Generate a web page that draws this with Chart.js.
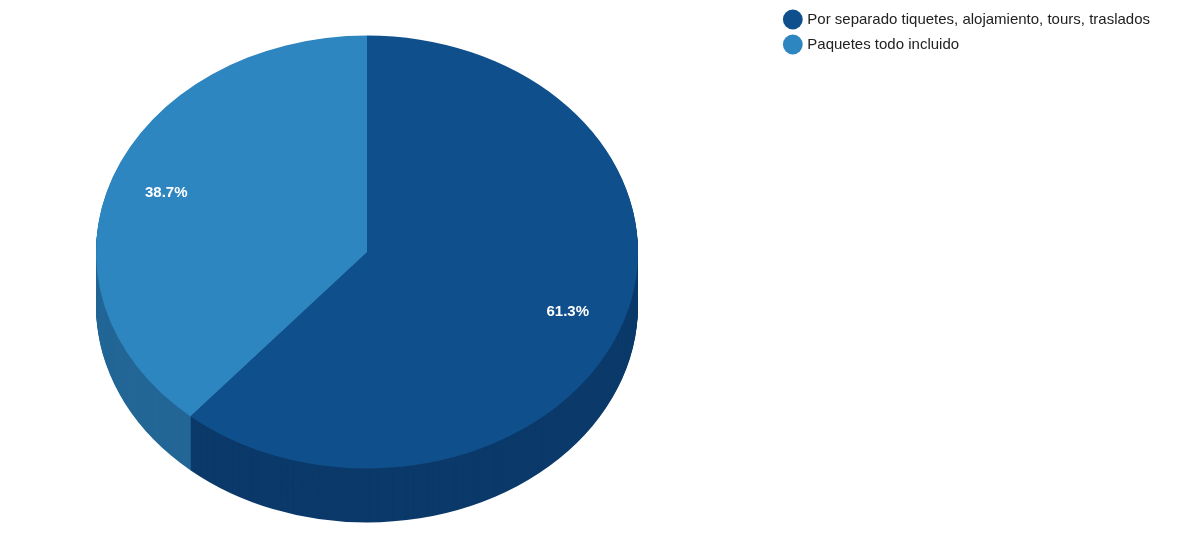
<!DOCTYPE html>
<html>
<head>
<meta charset="utf-8">
<script src="https://cdn.jsdelivr.net/npm/chart.js@4.4.0/dist/chart.umd.min.js"></script>
<style>
  html, body { margin: 0; padding: 0; background: #fff; }
  #wrap { width: 1200px; height: 536px; }
</style>
</head>
<body>
<div id="wrap"><canvas id="pieChart"></canvas></div>
<script>
const labels = ["Por separado tiquetes, alojamiento, tours, traslados", "Paquetes todo incluido"];
const values = [61.3, 38.7];
const topColors = ["#0f4f8c", "#2e86c1"];
const sideColors = ["#0b3a6a", "#236796"];

// 3D look: squash the pie into an ellipse and add a side wall
const CX = 367, CY = 252, RX = 271, RY = 216.5, DEPTH = 54;

function applyTransform(ctx, arc) {
    ctx.translate(CX, CY);
    ctx.scale(RX / arc.outerRadius, RY / arc.outerRadius);
    ctx.translate(-arc.x, -arc.y);
}

const pie3d = {
    id: "pie3d",
    beforeDatasetsDraw(chart) {
        const ctx = chart.ctx;
        const arcs = chart.getDatasetMeta(0).data;
        ctx.save();
        applyTransform(ctx, arcs[0]);
        const k = arcs[0].outerRadius / RY;
        for (let d = DEPTH; d > 0; d--) {
            arcs.forEach((a, i) => {
                ctx.beginPath();
                ctx.moveTo(a.x, a.y + d * k);
                ctx.arc(a.x, a.y + d * k, a.outerRadius, a.startAngle, a.endAngle);
                ctx.closePath();
                ctx.fillStyle = sideColors[i];
                ctx.fill();
            });
        }
    },
    afterDatasetsDraw(chart) {
        const ctx = chart.ctx;
        ctx.restore();
        const arcs = chart.getDatasetMeta(0).data;
        ctx.save();
        ctx.font = "bold 15px 'Liberation Sans', Arial, sans-serif";
        ctx.fillStyle = "#fff";
        ctx.textAlign = "center";
        ctx.textBaseline = "middle";
        arcs.forEach((a, i) => {
            const mid = (a.startAngle + a.endAngle) / 2;
            const x = CX + Math.cos(mid) * RX * 0.79;
            const y = CY + Math.sin(mid) * RY * 0.79;
            ctx.fillText(values[i].toFixed(1) + "%", x, y);
        });
        ctx.restore();
    }
};

new Chart(document.getElementById("pieChart"), {
    type: "pie",
    data: {
        labels: labels,
        datasets: [{ data: values, backgroundColor: topColors, borderWidth: 0 }]
    },
    options: {
        responsive: true,
        maintainAspectRatio: false,
        animation: false,
        events: [],
        layout: { padding: { top: 2, right: 40 } },
        plugins: {
            tooltip: { enabled: false },
            legend: {
                position: "right",
                align: "start",
                labels: {
                    usePointStyle: true,
                    pointStyle: "circle",
                    boxWidth: 14,
                    boxHeight: 14,
                    padding: 10,
                    color: "#222",
                    font: { size: 15, family: "'Liberation Sans', Arial, sans-serif" }
                }
            }
        }
    },
    plugins: [pie3d]
});
</script>
</body>
</html>
